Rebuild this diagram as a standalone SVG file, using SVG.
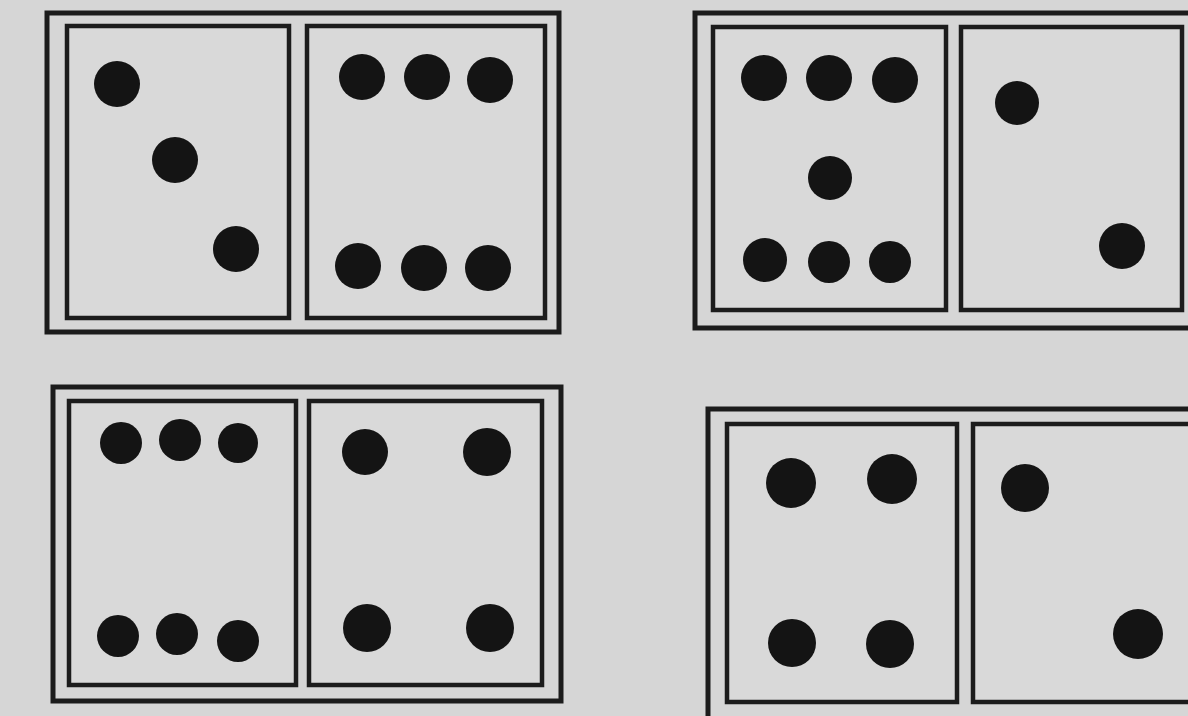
<svg xmlns="http://www.w3.org/2000/svg" width="1188" height="716" viewBox="0 0 1188 716">
<style>
.bg{fill:#d6d6d6}
.outer{fill:none;stroke:#1c1c1c;stroke-width:5}
.cell{fill:#d9d9d9;stroke:#1c1c1c;stroke-width:4.5}
.pip{fill:#141414}
</style>
<rect class="bg" x="0" y="0" width="1188" height="716"/>
<g id="domino-3-6">
<rect class="outer" x="47" y="13" width="512" height="319"/>
<rect class="cell" x="67" y="26" width="222" height="292"/>
<rect class="cell" x="307" y="26" width="238" height="292"/>
<circle class="pip" cx="117" cy="84" r="23"/>
<circle class="pip" cx="175" cy="160" r="23"/>
<circle class="pip" cx="236" cy="249" r="23"/>
<circle class="pip" cx="362" cy="77" r="23"/>
<circle class="pip" cx="427" cy="77" r="23"/>
<circle class="pip" cx="490" cy="80" r="23"/>
<circle class="pip" cx="358" cy="266" r="23"/>
<circle class="pip" cx="424" cy="268" r="23"/>
<circle class="pip" cx="488" cy="268" r="23"/>
</g>
<g id="domino-7-2">
<rect class="outer" x="695" y="13" width="520" height="315"/>
<rect class="cell" x="713" y="27" width="233" height="283"/>
<rect class="cell" x="961" y="27" width="221" height="283"/>
<circle class="pip" cx="764" cy="78" r="23"/>
<circle class="pip" cx="829" cy="78" r="23"/>
<circle class="pip" cx="895" cy="80" r="23"/>
<circle class="pip" cx="830" cy="178" r="22"/>
<circle class="pip" cx="765" cy="260" r="22"/>
<circle class="pip" cx="829" cy="262" r="21"/>
<circle class="pip" cx="890" cy="262" r="21"/>
<circle class="pip" cx="1017" cy="103" r="22"/>
<circle class="pip" cx="1122" cy="246" r="23"/>
</g>
<g id="domino-6-4">
<rect class="outer" x="53" y="387" width="508" height="314"/>
<rect class="cell" x="69" y="401" width="227" height="284"/>
<rect class="cell" x="309" y="401" width="233" height="284"/>
<circle class="pip" cx="121" cy="443" r="21"/>
<circle class="pip" cx="180" cy="440" r="21"/>
<circle class="pip" cx="238" cy="443" r="20"/>
<circle class="pip" cx="118" cy="636" r="21"/>
<circle class="pip" cx="177" cy="634" r="21"/>
<circle class="pip" cx="238" cy="641" r="21"/>
<circle class="pip" cx="365" cy="452" r="23"/>
<circle class="pip" cx="487" cy="452" r="24"/>
<circle class="pip" cx="367" cy="628" r="24"/>
<circle class="pip" cx="490" cy="628" r="24"/>
</g>
<g id="domino-4-2">
<rect class="outer" x="708" y="409" width="520" height="330"/>
<rect class="cell" x="727" y="424" width="230" height="278"/>
<rect class="cell" x="973" y="424" width="240" height="278"/>
<circle class="pip" cx="791" cy="483" r="25"/>
<circle class="pip" cx="892" cy="479" r="25"/>
<circle class="pip" cx="792" cy="643" r="24"/>
<circle class="pip" cx="890" cy="644" r="24"/>
<circle class="pip" cx="1025" cy="488" r="24"/>
<circle class="pip" cx="1138" cy="634" r="25"/>
</g>
</svg>
